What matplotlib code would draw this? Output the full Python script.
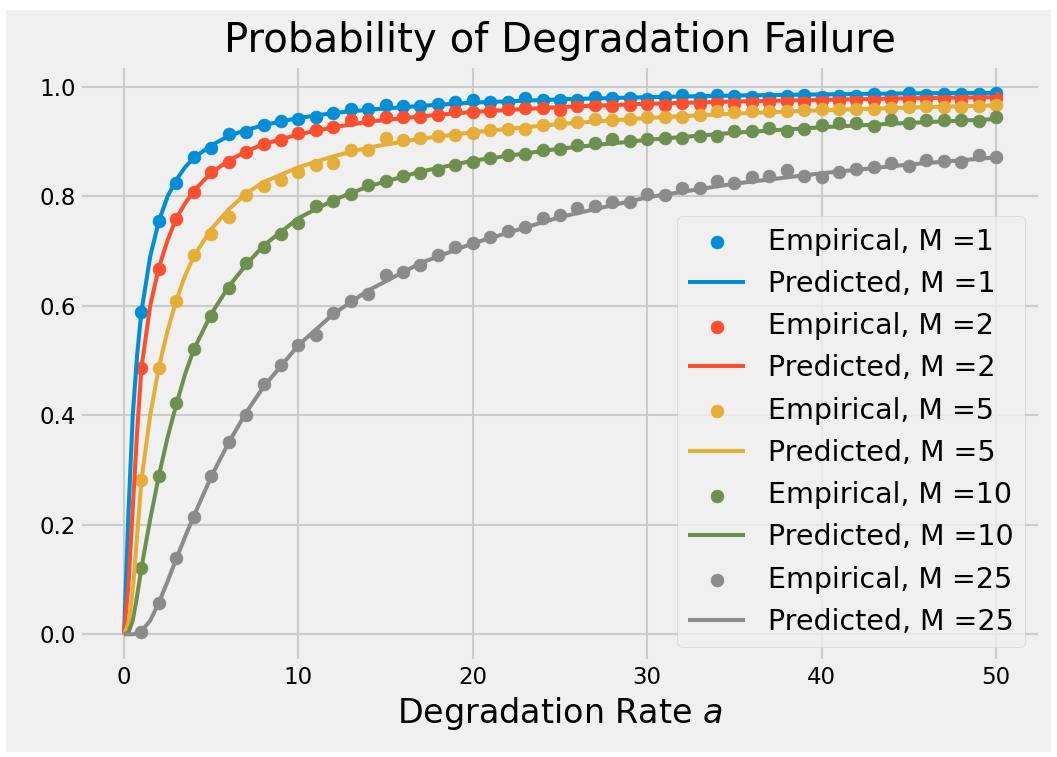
import matplotlib
matplotlib.use("Agg")
import matplotlib.pyplot as plt
from matplotlib.patches import Rectangle

plt.style.use("fivethirtyeight")

# degradation rates for the simulated (empirical) points
A_EMP = list(range(1, 51))

EMP_M1 = [0.589, 0.755, 0.825, 0.871, 0.889, 0.913, 0.917, 0.931, 0.938, 0.942,
          0.945, 0.952, 0.959, 0.959, 0.967, 0.964, 0.964, 0.969, 0.972, 0.975,
          0.973, 0.973, 0.979, 0.975, 0.976, 0.976, 0.982, 0.979, 0.980, 0.978,
          0.981, 0.985, 0.980, 0.985, 0.983, 0.982, 0.980, 0.984, 0.985, 0.982,
          0.984, 0.983, 0.987, 0.984, 0.988, 0.985, 0.987, 0.987, 0.986, 0.989]
EMP_M2 = [0.486, 0.668, 0.758, 0.807, 0.845, 0.863, 0.881, 0.896, 0.903, 0.915,
          0.921, 0.926, 0.939, 0.939, 0.945, 0.944, 0.945, 0.948, 0.955, 0.953,
          0.956, 0.959, 0.961, 0.961, 0.958, 0.964, 0.967, 0.965, 0.966, 0.968,
          0.966, 0.970, 0.969, 0.972, 0.969, 0.973, 0.972, 0.974, 0.973, 0.975,
          0.974, 0.976, 0.975, 0.977, 0.976, 0.978, 0.977, 0.976, 0.980, 0.979]
EMP_M5 = [0.282, 0.486, 0.609, 0.693, 0.731, 0.763, 0.802, 0.818, 0.830, 0.844,
          0.857, 0.861, 0.885, 0.885, 0.906, 0.903, 0.906, 0.910, 0.912, 0.915,
          0.921, 0.922, 0.922, 0.930, 0.933, 0.936, 0.941, 0.939, 0.942, 0.945,
          0.945, 0.945, 0.948, 0.955, 0.953, 0.955, 0.956, 0.956, 0.958, 0.959,
          0.959, 0.959, 0.959, 0.961, 0.963, 0.964, 0.963, 0.963, 0.965, 0.967]
EMP_M10 = [0.122, 0.289, 0.423, 0.521, 0.581, 0.632, 0.678, 0.708, 0.732, 0.751,
           0.782, 0.791, 0.805, 0.820, 0.827, 0.837, 0.842, 0.848, 0.857, 0.863,
           0.869, 0.875, 0.878, 0.885, 0.886, 0.894, 0.897, 0.905, 0.901, 0.904,
           0.907, 0.907, 0.910, 0.910, 0.919, 0.919, 0.924, 0.920, 0.922, 0.930,
           0.933, 0.934, 0.928, 0.939, 0.934, 0.939, 0.940, 0.939, 0.938, 0.945]
EMP_M25 = [0.005, 0.058, 0.140, 0.215, 0.290, 0.352, 0.401, 0.457, 0.491, 0.528,
           0.547, 0.587, 0.609, 0.621, 0.656, 0.662, 0.675, 0.692, 0.707, 0.714,
           0.726, 0.737, 0.744, 0.760, 0.766, 0.778, 0.782, 0.790, 0.789, 0.804,
           0.802, 0.816, 0.815, 0.827, 0.824, 0.836, 0.837, 0.848, 0.837, 0.836,
           0.845, 0.849, 0.853, 0.860, 0.855, 0.866, 0.865, 0.863, 0.875, 0.871]

# degradation rates for the predicted curves
A_PRED = [0, 0.25, 0.5, 0.75, 1, 1.5, 2, 2.5, 3, 3.5, 4, 5, 6, 7, 8, 10, 12, 14,
          17, 20, 25, 30, 35, 40, 45, 50]

PRED_M1 = [0.0, 0.22, 0.40, 0.51, 0.59, 0.69, 0.755, 0.80, 0.83, 0.853, 0.870,
           0.893, 0.910, 0.921, 0.930, 0.943, 0.952, 0.958, 0.965, 0.971, 0.977,
           0.981, 0.984, 0.986, 0.988, 0.989]
PRED_M2 = [0.0, 0.09, 0.23, 0.37, 0.487, 0.60, 0.67, 0.72, 0.76, 0.787, 0.810,
           0.843, 0.865, 0.882, 0.895, 0.913, 0.926, 0.936, 0.946, 0.954, 0.963,
           0.969, 0.973, 0.976, 0.979, 0.981]
PRED_M5 = [0.0, 0.02, 0.08, 0.18, 0.282, 0.40, 0.488, 0.555, 0.61, 0.655, 0.690,
           0.740, 0.776, 0.805, 0.826, 0.853, 0.873, 0.889, 0.905, 0.917, 0.932,
           0.943, 0.951, 0.957, 0.962, 0.966]
PRED_M10 = [0.0, 0.003, 0.025, 0.07, 0.122, 0.21, 0.29, 0.36, 0.42, 0.475, 0.520,
            0.585, 0.635, 0.675, 0.710, 0.760, 0.793, 0.818, 0.845, 0.865, 0.887,
            0.903, 0.916, 0.926, 0.934, 0.941]
PRED_M25 = [0.0, 0.0, 0.0, 0.002, 0.006, 0.025, 0.058, 0.097, 0.138, 0.178, 0.216,
            0.288, 0.350, 0.405, 0.452, 0.528, 0.585, 0.628, 0.678, 0.714, 0.762,
            0.798, 0.823, 0.842, 0.858, 0.871]

M_VALUES = [1, 2, 5, 10, 25]
EMPIRICAL = [EMP_M1, EMP_M2, EMP_M5, EMP_M10, EMP_M25]
PREDICTED = [PRED_M1, PRED_M2, PRED_M5, PRED_M10, PRED_M25]
COLORS = ["#008fd5", "#fc4f30", "#e5ae38", "#6d904f", "#8b8b8b"]

fig = plt.figure(figsize=(10.57, 7.57), dpi=100, facecolor="white")
# grey card inside a thin white border, as in the reference
fig.patches.append(Rectangle((6 / 1057, 5 / 757), 1045 / 1057, 742 / 757,
                             transform=fig.transFigure, facecolor="#f0f0f0",
                             edgecolor="none", zorder=-10))
ax = fig.add_axes([0.0761, 0.1263, 0.9074, 0.7869])

for m, emp, pred, c in zip(M_VALUES, EMPIRICAL, PREDICTED, COLORS):
    ax.scatter(A_EMP, emp, color=c, s=85, label=f"Empirical, M ={m}")
    ax.plot(A_PRED, pred, color=c, linewidth=2.9, label=f"Predicted, M ={m}")

ax.set_title("Probability of Degradation Failure", fontsize=29, pad=10)
ax.set_xlabel("Degradation Rate $a$", fontsize=24)
ax.tick_params(labelsize=16.5)
ax.set_xticks([0, 10, 20, 30, 40, 50])
ax.set_yticks([0.0, 0.2, 0.4, 0.6, 0.8, 1.0])
ax.grid(linewidth=1.5)
ax.legend(loc="lower right", fontsize=20.5, framealpha=0.8)

fig.savefig("out.png", dpi=100, facecolor="white")
